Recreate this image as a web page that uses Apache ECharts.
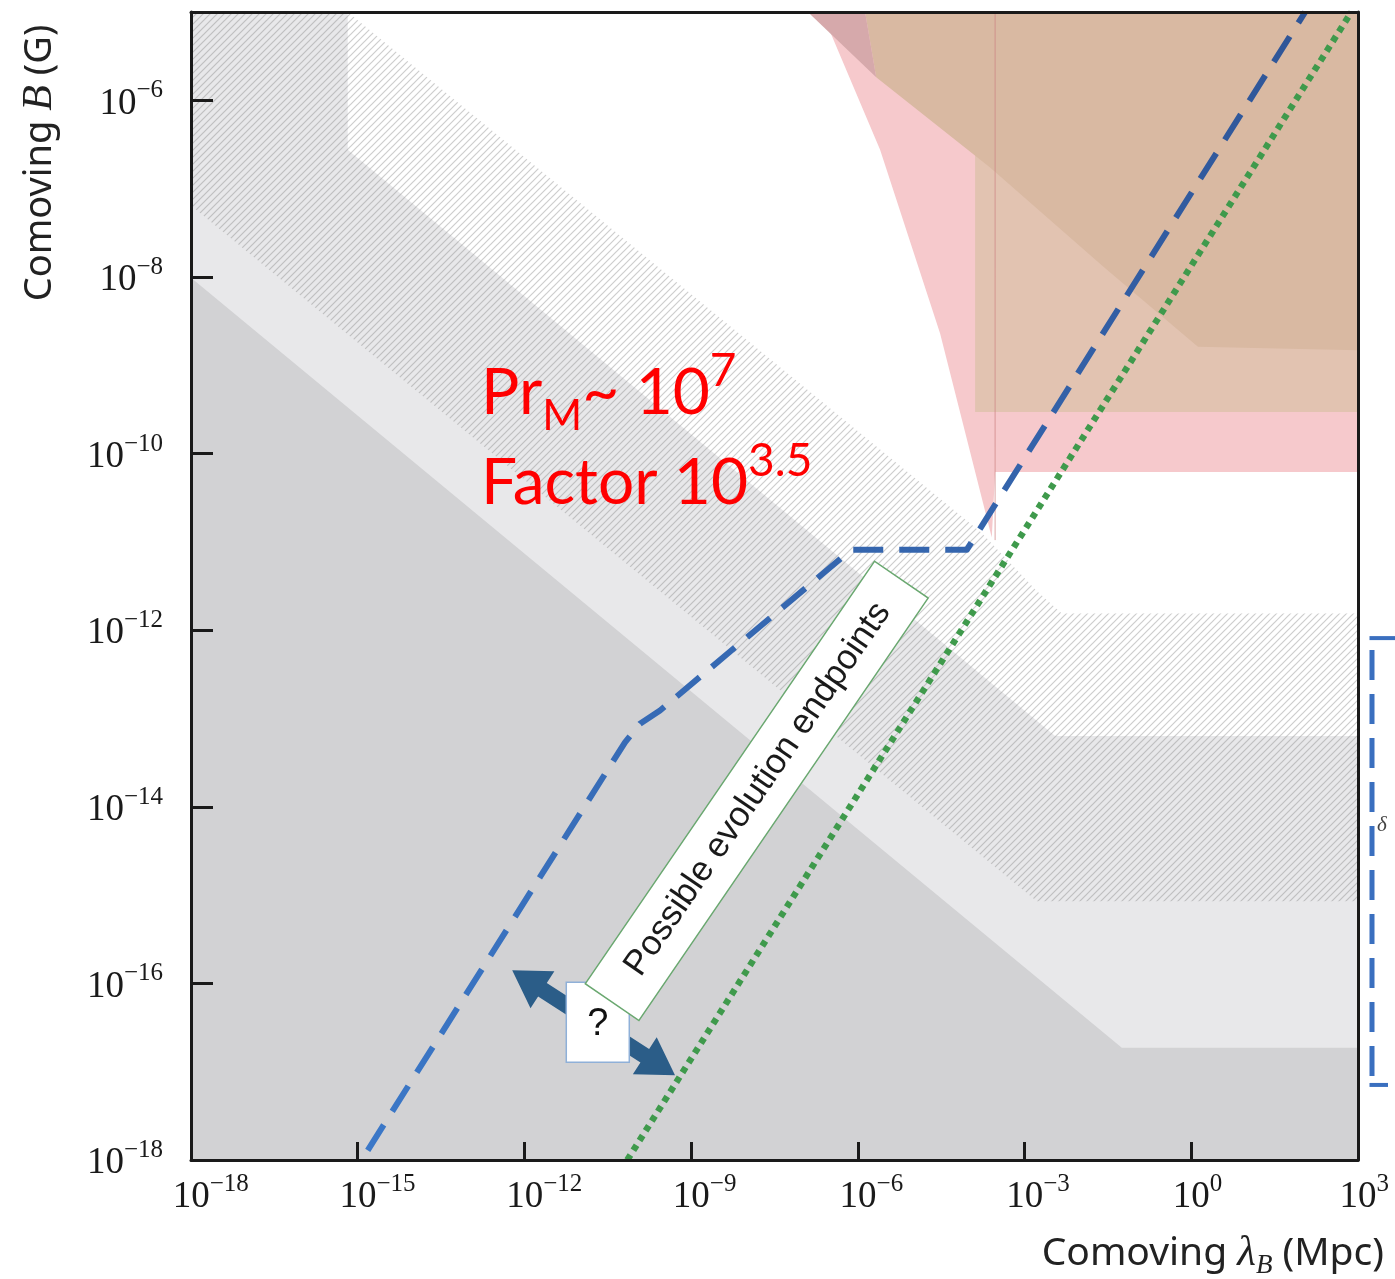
<!DOCTYPE html>
<html>
<head>
<meta charset="utf-8">
<title>Comoving B vs Comoving λB</title>
<script src="https://cdn.jsdelivr.net/npm/echarts@6/dist/echarts.min.js"></script>
<style>
  html, body { margin: 0; padding: 0; background: #ffffff; }
  #chart { width: 1395px; height: 1279px; }
</style>
</head>
<body>
<div id="chart"></div>
<script>
// ---- Data (log10 of λ_B in Mpc, log10 of B in G) ----
const xTickExps = [-18, -15, -12, -9, -6, -3, 0, 3];
const yTickExps = [-18, -16, -14, -12, -10, -8, -6];

// shaded regions, outlines as [log10 λ, log10 B]
const lightGrayRegion = [[-18, -5], [-15.18, -5], [-15.18, -6.56], [-2.45, -13.2], [3, -13.2], [3, -18], [-18, -18]];
const darkGrayRegion  = [[-18, -8.01], [-1.25, -16.73], [3, -16.73], [3, -18], [-18, -18]];
const hatchedRegion   = [[-18, -5], [-15.18, -5], [-3.77, -10.90], [-2.79, -11.55], [-2.33, -11.81], [3, -11.81],
                         [3, -15.07], [-2.78, -15.07], [-18, -7.19]];
const pinkRegion      = [[-6.65, -5], [-5.60, -6.56], [-4.52, -8.64], [-3.59, -10.95], [-3.53, -10.21], [3, -10.21], [3, -5]];
const peachRegion     = [[-3.89, -5], [3, -5], [3, -9.53], [-3.89, -9.53]];
const brownRegion     = [[-5.87, -5], [3, -5], [3, -8.83], [0.12, -8.79], [-1.57, -7.89], [-3.62, -6.76], [-5.67, -5.74]];
const mauveRegion     = [[-6.90, -5], [-5.87, -5], [-5.67, -5.74]];
const pinkEdge        = [[-3.53, -5], [-3.53, -10.98]];

// evolution tracks
const blueDashed  = [[-14.82, -17.89], [-10.19, -13.27], [-9.92, -13.06], [-9.56, -12.91], [-6.12, -11.09], [-4.04, -11.09], [2.05, -5]];
const greenDotted = [[-10.15, -18], [2.88, -5]];

// annotation anchors
const endpointsBoxAt = [-7.82, -13.82];
const questionAt     = [-10.68, -16.44];
const arrowEnds      = [[-12.22, -15.85], [-9.29, -17.04]];
const redNoteAt      = [-12.78, -9.53];
const sideBracket    = [-12.09, -17.15];

// ---- helpers ----
const pow10 = e => Math.pow(10, e);
const toVal = pts => pts.map(p => [pow10(p[0]), pow10(p[1])]);

function makeHatch() {
  const n = 7;
  const c = document.createElement('canvas');
  c.width = n; c.height = n;
  const g = c.getContext('2d');
  g.strokeStyle = 'rgba(130,130,130,0.4)';
  g.lineWidth = 1.2;
  g.beginPath();
  g.moveTo(-1, n + 1); g.lineTo(n + 1, -1);
  g.moveTo(-1, 1); g.lineTo(1, -1);
  g.moveTo(n - 1, n + 1); g.lineTo(n + 1, n - 1);
  g.stroke();
  return c;
}
const hatchCanvas = makeHatch();

function regionSeries(name, pts, style, z) {
  const vals = toVal(pts);
  return {
    type: 'custom', name: name, coordinateSystem: 'cartesian2d',
    xAxisIndex: 0, yAxisIndex: 0, silent: true, z: z,
    data: vals, encode: { x: 0, y: 1 },
    renderItem: function (params, api) {
      if (params.dataIndex !== 0) return null;
      const points = vals.map(v => api.coord(v));
      return { type: 'polygon', shape: { points: points }, style: style };
    }
  };
}

function anchorSeries(name, anchor, build, z) {
  return {
    type: 'custom', name: name, coordinateSystem: 'cartesian2d',
    xAxisIndex: 0, yAxisIndex: 0, silent: true, z: z,
    data: [[pow10(anchor[0]), pow10(anchor[1])]], encode: { x: 0, y: 1 },
    renderItem: function (params, api) {
      const p = api.coord([api.value(0), api.value(1)]);
      return build(p, api);
    }
  };
}

const serifFont = 'Liberation Serif';
const supText = e => (e < 0 ? '\u2212' + (-e) : String(e));

const labelRich = {
  b: { fontFamily: serifFont, fontSize: 37, lineHeight: 44, color: '#1a1a1a', verticalAlign: 'bottom' },
  s: { fontFamily: serifFont, fontSize: 25, lineHeight: 28, color: '#1a1a1a', verticalAlign: 'top' },
  w1: { width: 12.5, fontSize: 25, lineHeight: 28 },
  w2: { width: 27, fontSize: 25, lineHeight: 28 },
  w3: { width: 39.5, fontSize: 25, lineHeight: 28 }
};

function xLabel(v) {
  const e = Math.round(Math.log10(v));
  if (xTickExps.indexOf(e) < 0) return '';
  const s = supText(e);
  return '{w' + s.length + '| }{b|10}{s|' + s + '}';
}
function yLabel(v) {
  const e = Math.round(Math.log10(v));
  if (yTickExps.indexOf(e) < 0) return '';
  return '{b|10}{s|' + supText(e) + '}';
}

const frameLine = { show: true, onZero: false, lineStyle: { color: '#1a1a1a', width: 3 } };

// ---- chart ----
const chart = echarts.init(document.getElementById('chart'), null, { renderer: 'canvas', width: 1395, height: 1279 });

const option = {
  animation: false,
  backgroundColor: '#ffffff',
  grid: { left: 191, right: 37, top: 12, bottom: 119, show: false },
  xAxis: [
    {
      type: 'log', logBase: 10, min: 1e-18, max: 1e3, interval: 3, position: 'bottom', z: 10,
      axisLine: frameLine,
      axisTick: { show: true, inside: true, length: 18, lineStyle: { color: '#1a1a1a', width: 3 } },
      splitLine: { show: false }, minorTick: { show: false },
      axisLabel: { margin: 12, formatter: xLabel, rich: labelRich }
    },
    {
      type: 'log', logBase: 10, min: 1e-18, max: 1e3, position: 'top', z: 10,
      axisLine: frameLine, axisTick: { show: false }, axisLabel: { show: false }, splitLine: { show: false }
    }
  ],
  yAxis: [
    {
      type: 'log', logBase: 10, min: 1e-18, max: 1e-5, interval: 2, position: 'left', z: 10,
      axisLine: frameLine,
      axisTick: { show: true, inside: true, length: 22, lineStyle: { color: '#1a1a1a', width: 3 } },
      splitLine: { show: false }, minorTick: { show: false },
      axisLabel: { margin: 28, formatter: yLabel, rich: labelRich, showMaxLabel: false }
    },
    {
      type: 'log', logBase: 10, min: 1e-18, max: 1e-5, position: 'right', z: 10,
      axisLine: frameLine, axisTick: { show: false }, axisLabel: { show: false }, splitLine: { show: false }
    }
  ],
  graphic: [
    {
      id: 'yTitle', type: 'text', x: 40, y: 163, rotation: Math.PI / 2, z: 20,
      style: {
        text: '{n|Comoving }{i|B}{n| (G)}',
        align: 'center', verticalAlign: 'middle',
        rich: {
          n: { fontFamily: 'Noto Sans', fontSize: 38, fill: '#222222' },
          i: { fontFamily: serifFont, fontStyle: 'italic', fontSize: 42, fill: '#222222' }
        }
      }
    },
    {
      id: 'xTitle', type: 'text', x: 1384, y: 1254, z: 20,
      style: {
        text: '{n|Comoving }{i|\u03bb}{sub|B}{n| (Mpc)}',
        align: 'right', verticalAlign: 'middle',
        rich: {
          n: { fontFamily: 'Noto Sans', fontSize: 39, fill: '#222222', lineHeight: 50 },
          i: { fontFamily: serifFont, fontStyle: 'italic', fontSize: 43, fill: '#222222', lineHeight: 50 },
          sub: { fontFamily: serifFont, fontStyle: 'italic', fontSize: 27, fill: '#222222', lineHeight: 30, verticalAlign: 'bottom' }
        }
      }
    }
  ],
  series: [
    regionSeries('lightGray', lightGrayRegion, { fill: '#e8e8ea' }, 1),
    regionSeries('darkGray', darkGrayRegion, { fill: '#d2d2d4' }, 2),
    regionSeries('hatched', hatchedRegion, { fill: { image: hatchCanvas, repeat: 'repeat' } }, 3),
    regionSeries('pink', pinkRegion, { fill: '#f6c9cc' }, 4),
    regionSeries('peach', peachRegion, { fill: '#e2c3b1' }, 5),
    regionSeries('brown', brownRegion, { fill: '#d9b9a2' }, 6),
    regionSeries('mauve', mauveRegion, { fill: '#d6a9ab' }, 6),
    {
      type: 'line', name: 'pinkEdge', data: toVal(pinkEdge), symbol: 'none', silent: true, z: 7,
      lineStyle: { color: 'rgba(205,130,130,0.7)', width: 1 }
    },
    {
      type: 'line', name: 'blueTrack', data: toVal(blueDashed), symbol: 'none', silent: true, z: 8,
      lineStyle: {
        width: 6, type: [30, 16], cap: 'butt', join: 'round',
        color: new echarts.graphic.LinearGradient(0, 0, 0, 1, [
          { offset: 0, color: '#2f5597' }, { offset: 1, color: '#3b78c8' }
        ])
      }
    },
    {
      type: 'line', name: 'greenTrack', data: toVal(greenDotted), symbol: 'none', silent: true, z: 8,
      lineStyle: { width: 6.5, type: [6, 5.5], cap: 'butt', color: '#3f9a4c' }
    },
    // double-headed arrow through the question box
    {
      type: 'custom', name: 'arrow', coordinateSystem: 'cartesian2d', silent: true, z: 12,
      data: toVal(arrowEnds), encode: { x: 0, y: 1 },
      renderItem: function (params, api) {
        if (params.dataIndex !== 0) return null;
        const ends = toVal(arrowEnds);
        const a = api.coord(ends[0]);
        const b = api.coord(ends[1]);
        const dx = b[0] - a[0], dy = b[1] - a[1];
        const L = Math.sqrt(dx * dx + dy * dy), c = dx / L, s = dy / L;
        const hl = 36, hw = 22, sw = 8;
        const local = [[0, 0], [hl, -hw], [hl, -sw], [L - hl, -sw], [L - hl, -hw], [L, 0],
                       [L - hl, hw], [L - hl, sw], [hl, sw], [hl, hw]];
        const pts = local.map(q => [a[0] + q[0] * c - q[1] * s, a[1] + q[0] * s + q[1] * c]);
        return { type: 'polygon', shape: { points: pts }, style: { fill: '#2b5d88' } };
      }
    },
    anchorSeries('question', questionAt, function (p) {
      return {
        type: 'group', x: p[0], y: p[1],
        children: [
          { type: 'rect', shape: { x: -31.5, y: -40, width: 63, height: 80 },
            style: { fill: '#ffffff', stroke: '#8fb0d8', lineWidth: 1.5 } },
          { type: 'text', style: { text: '?', x: 0, y: 2, align: 'center', verticalAlign: 'middle',
              fontFamily: 'Liberation Sans', fontSize: 38, fill: '#111111' } }
        ]
      };
    }, 13),
    anchorSeries('endpoints', endpointsBoxAt, function (p) {
      return {
        type: 'group', x: p[0], y: p[1], rotation: 55.6 * Math.PI / 180,
        children: [
          { type: 'rect', shape: { x: -256, y: -32.5, width: 512, height: 65 },
            style: { fill: '#ffffff', stroke: '#6aa870', lineWidth: 1.5 } },
          { type: 'text', style: { text: 'Possible evolution endpoints', x: 2, y: 0, align: 'center', verticalAlign: 'middle',
              fontFamily: 'Liberation Sans', fontSize: 35, fill: '#1a1a1a' } }
        ]
      };
    }, 14),
    anchorSeries('note', redNoteAt, function (p) {
      const rich = {
        a: { fontFamily: 'Lato', fontSize: 64, lineHeight: 90, fill: '#ff0000' },
        sub: { fontFamily: 'Lato', fontSize: 43, lineHeight: 40, verticalAlign: 'bottom', fill: '#ff0000' },
        sup: { fontFamily: 'Lato', fontSize: 46, lineHeight: 62, verticalAlign: 'top', fill: '#ff0000' }
      };
      return {
        type: 'group', x: p[0], y: p[1],
        children: [
          { type: 'text', style: { text: '{a|Pr}{sub|M}{a|~ 10}{sup|7}', x: 0, y: -64, align: 'left', verticalAlign: 'top', rich: rich } },
          { type: 'text', style: { text: '{a|Factor 10}{sup|3.5}', x: 0, y: 26, align: 'left', verticalAlign: 'top', rich: rich } }
        ]
      };
    }, 15)
  ]
};

chart.setOption(option);

// dashed bracket drawn beside the right frame
(function () {
  const bx = chart.convertToPixel({ xAxisIndex: 0 }, 1e3) + 14;
  const yTop = chart.convertToPixel({ yAxisIndex: 0 }, pow10(sideBracket[0]));
  const yBot = chart.convertToPixel({ yAxisIndex: 0 }, pow10(sideBracket[1]));
  const blue = '#3a6fbf';
  chart.setOption({
    graphic: [
      { id: 'brTop', type: 'line', z: 20, shape: { x1: bx - 2.5, y1: yTop, x2: 1395, y2: yTop }, style: { stroke: blue, lineWidth: 4 } },
      { id: 'brMid', type: 'line', z: 20, shape: { x1: bx, y1: yTop + 12, x2: bx, y2: yBot }, style: { stroke: blue, lineWidth: 5, lineDash: [30, 14] } },
      { id: 'brBot', type: 'line', z: 20, shape: { x1: bx - 2.5, y1: yBot, x2: bx + 16, y2: yBot }, style: { stroke: blue, lineWidth: 4 } },
      { id: 'brSym', type: 'text', z: 20, x: bx + 10, y: (yTop + yBot) / 2 - 36,
        style: { text: '\u03b4', fontFamily: serifFont, fontStyle: 'italic', fontSize: 21, fill: '#444444', align: 'center', verticalAlign: 'middle' } }
    ]
  });
})();
</script>
</body>
</html>
